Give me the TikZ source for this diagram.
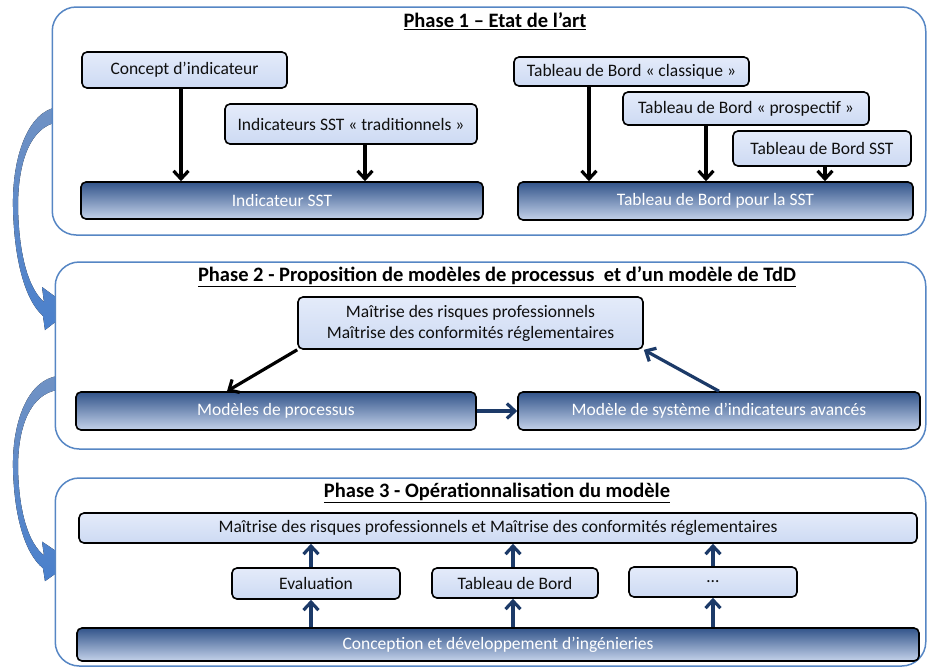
\documentclass[tikz,border=0pt]{standalone}
\usepackage{fontspec}
\setmainfont{Carlito}
\usetikzlibrary{arrows.meta}

\definecolor{framecol}{RGB}{86,134,196}
\definecolor{swoosh}{RGB}{74,128,204}
\definecolor{swooshtop}{RGB}{112,146,196}
\definecolor{lighttop}{RGB}{228,235,250}
\definecolor{lightbot}{RGB}{205,218,243}
\definecolor{darktop}{RGB}{50,84,138}
\definecolor{darkbot}{RGB}{196,210,234}
\definecolor{navy}{RGB}{28,58,104}
\definecolor{boxtext}{RGB}{15,15,15}

\tikzset{
  phase/.style={draw=framecol, line width=1.5pt, rounded corners=24pt, fill=white},
  phasetitle/.style={font=\bfseries\fontsize{20.5}{24}\selectfont},
  lbox/.style={draw=black, line width=1.6pt, rounded corners=5pt, inner sep=0pt,
    top color=lighttop, bottom color=lightbot, align=center, text=boxtext,
    font=\fontsize{17.5}{21}\selectfont},
  dbox/.style={lbox, top color=darktop, bottom color=darkbot, text=white},
  blk/.style={-{Straight Barb[length=8pt,width=15pt]}, line width=3.2pt},
  nav/.style={blk, draw=navy},
}

% curved arrow between two phases
\newcommand{\phasearrow}[1]{%
  \begin{scope}[#1]
    \fill[top color=swooshtop, bottom color=swoosh]
      (58,0) .. controls (28,4) and (12,50) .. (13,100)
      .. controls (14,150) and (24,192) .. (43,209)
      -- (45,223) -- (72,202) -- (42,180) -- (44,195)
      .. controls (29,182) and (19,150) .. (18,100)
      .. controls (18,55) and (30,20) .. (58,15) -- cycle;
  \end{scope}}

\begin{document}
\begin{tikzpicture}[x=1pt, y=-1pt]
    \useasboundingbox (0,0) rectangle (927,667);

    % Arrows between the phases
    \phasearrow{shift={(0,107)}}
    \phasearrow{shift={(0,376)}, yscale=0.92}

    % Phase frames
    \node[phase, minimum width=873.5pt, minimum height=228pt] (phase1) at (489,121) {};
    \node[phase, minimum width=870.5pt, minimum height=187pt] (phase2) at (490.5,355.5) {};
    \node[phase, minimum width=870.5pt, minimum height=188pt] (phase3) at (490.5,572) {};

    % Phase 1
    \node[phasetitle] (t1) at (495,21) {\underline{Phase 1 – Etat de l’art}};
    \node[lbox, minimum width=205pt, minimum height=36pt] (concept) at (184.5,70) {Concept d’indicateur};
    \node[lbox, minimum width=252pt, minimum height=40pt] (tradi) at (351,124) {Indicateurs SST « traditionnels »};
    \node[dbox, minimum width=402pt, minimum height=37pt] (indsst) at (282,200.5) {Indicateur SST};
    \node[lbox, minimum width=235pt, minimum height=29pt] (classique) at (631.5,71.5) {Tableau de Bord « classique »};
    \node[lbox, minimum width=246pt, minimum height=33pt] (prospectif) at (746,108.5) {Tableau de Bord « prospectif »};
    \node[lbox, minimum width=178pt, minimum height=35pt] (tdbsst) at (822,148.5) {Tableau de Bord SST};
    \node[dbox, minimum width=395pt, minimum height=38pt] (tdbpour) at (715.5,201) {Tableau de Bord pour la SST};

    \draw[blk] ([xshift=-3.5pt]concept.south) -- ([xshift=-3.5pt]concept.south |- indsst.north);
    \draw[blk] ([xshift=14pt]tradi.south) -- ([xshift=14pt]tradi.south |- indsst.north);
    \draw[blk] ([xshift=-42.5pt]classique.south) -- ([xshift=-42.5pt]classique.south |- tdbpour.north);
    \draw[blk] ([xshift=-40pt]prospectif.south) -- ([xshift=-40pt]prospectif.south |- tdbpour.north);
    \draw[blk] ([xshift=3pt]tdbsst.south) -- ([xshift=3pt]tdbsst.south |- tdbpour.north);

    % Phase 2
    \node[phasetitle] (t2) at (497,277) {\underline{Phase 2 - Proposition de modèles de processus\ \ et d’un modèle de TdD}};
    \node[lbox, minimum width=345pt, minimum height=52pt] (maitrise2) at (470.5,323)
      {Maîtrise des risques professionnels\\Maîtrise des conformités réglementaires};
    \node[dbox, minimum width=400pt, minimum height=38pt] (modproc) at (276,411) {Modèles de processus};
    \node[dbox, minimum width=402pt, minimum height=38pt] (modsys) at (719,411) {Modèle de système d’indicateurs avancés};

    \draw[blk] (maitrise2.south west) -- ([xshift=-49pt]modproc.north);
    \draw[nav] (modproc.east) -- (modsys.west);
    \draw[nav] (modsys.north) -- (maitrise2.south east);

    % Phase 3
    \node[phasetitle] (t3) at (497,493) {\underline{Phase 3 - Opérationnalisation du modèle}};
    \node[lbox, minimum width=838pt, minimum height=30pt] (maitrise3) at (498,528)
      {Maîtrise des risques professionnels et Maîtrise des conformités réglementaires};
    \node[lbox, minimum width=168pt, minimum height=31pt] (eval) at (316,583.5) {Evaluation};
    \node[lbox, minimum width=166pt, minimum height=30pt] (tdb) at (515,583) {Tableau de Bord};
    \node[lbox, minimum width=168pt, minimum height=30pt] (etc) at (713,582) {…};
    \node[dbox, minimum width=842pt, minimum height=33pt] (concep) at (498,644.5) {Conception et développement d’ingénieries};

    \draw[nav] ([xshift=-5pt]eval.south |- concep.north) -- ([xshift=-5pt]eval.south);
    \draw[nav] ([xshift=-5pt]eval.north) -- ([xshift=-5pt]eval.north |- maitrise3.south);
    \draw[nav] ([xshift=-2pt]tdb.south |- concep.north) -- ([xshift=-2pt]tdb.south);
    \draw[nav] ([xshift=-2pt]tdb.north) -- ([xshift=-2pt]tdb.north |- maitrise3.south);
    \draw[nav] (etc.south |- concep.north) -- (etc.south);
    \draw[nav] (etc.north) -- (etc.north |- maitrise3.south);
\end{tikzpicture}
\end{document}
